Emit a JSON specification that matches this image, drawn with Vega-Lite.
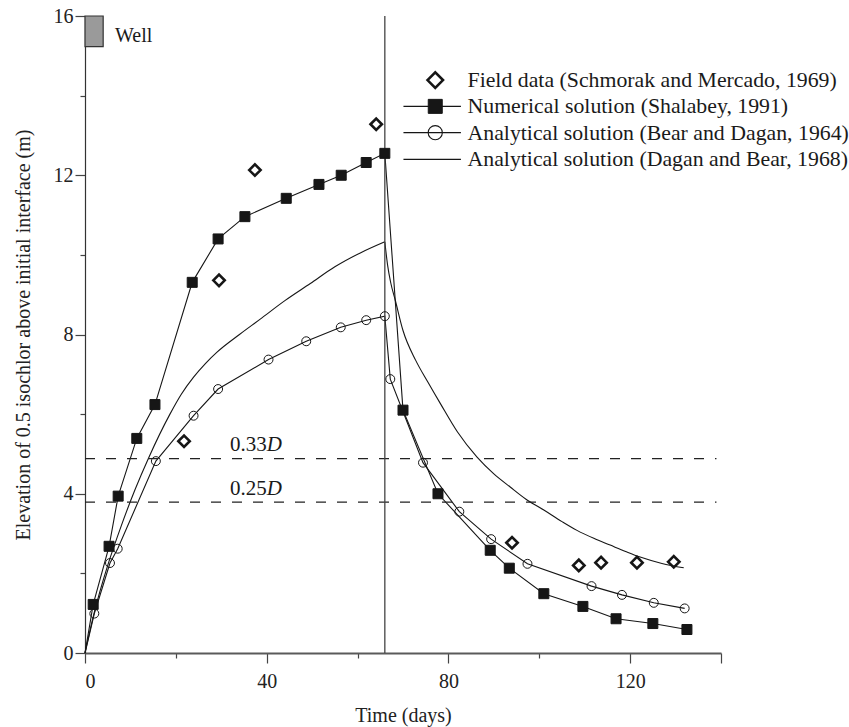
{
  "$schema": "https://vega.github.io/schema/vega-lite/v6.json",
  "width": 636,
  "height": 637,
  "autosize": "none",
  "padding": {"left": 85, "top": 16, "right": 128, "bottom": 74},
  "background": "white",
  "config": {
    "view": {"stroke": null},
    "font": "Liberation Serif",
    "axis": {
      "grid": false,
      "labelFont": "Liberation Serif",
      "labelFontSize": 20,
      "labelColor": "#222222",
      "titleFont": "Liberation Serif",
      "titleFontSize": 20,
      "titleFontWeight": "normal",
      "titleColor": "#222222",
      "tickColor": "#444444",
      "tickWidth": 1.2
    },
    "text": {"font": "Liberation Serif", "color": "#1a1a1a"}
  },
  "datasets": {
    "obs": [
      {"series": "Field data (Schmorak and Mercado, 1969)", "stage": "pumping", "day": 21.8, "val": 5.32},
      {"series": "Field data (Schmorak and Mercado, 1969)", "stage": "pumping", "day": 29.5, "val": 9.36},
      {"series": "Field data (Schmorak and Mercado, 1969)", "stage": "pumping", "day": 37.4, "val": 12.13},
      {"series": "Field data (Schmorak and Mercado, 1969)", "stage": "pumping", "day": 64.1, "val": 13.28},
      {"series": "Field data (Schmorak and Mercado, 1969)", "stage": "recovery", "day": 94.0, "val": 2.77},
      {"series": "Field data (Schmorak and Mercado, 1969)", "stage": "recovery", "day": 108.7, "val": 2.2},
      {"series": "Field data (Schmorak and Mercado, 1969)", "stage": "recovery", "day": 113.6, "val": 2.27},
      {"series": "Field data (Schmorak and Mercado, 1969)", "stage": "recovery", "day": 121.5, "val": 2.27},
      {"series": "Field data (Schmorak and Mercado, 1969)", "stage": "recovery", "day": 129.6, "val": 2.29},

      {"series": "Numerical solution (Shalabey, 1991)", "stage": "pumping", "day": 0, "val": 0},
      {"series": "Numerical solution (Shalabey, 1991)", "stage": "pumping", "day": 1.8, "val": 1.22},
      {"series": "Numerical solution (Shalabey, 1991)", "stage": "pumping", "day": 5.3, "val": 2.68},
      {"series": "Numerical solution (Shalabey, 1991)", "stage": "pumping", "day": 7.3, "val": 3.94},
      {"series": "Numerical solution (Shalabey, 1991)", "stage": "pumping", "day": 11.4, "val": 5.39},
      {"series": "Numerical solution (Shalabey, 1991)", "stage": "pumping", "day": 15.4, "val": 6.24},
      {"series": "Numerical solution (Shalabey, 1991)", "stage": "pumping", "day": 23.6, "val": 9.31},
      {"series": "Numerical solution (Shalabey, 1991)", "stage": "pumping", "day": 29.3, "val": 10.4},
      {"series": "Numerical solution (Shalabey, 1991)", "stage": "pumping", "day": 35.2, "val": 10.96},
      {"series": "Numerical solution (Shalabey, 1991)", "stage": "pumping", "day": 44.3, "val": 11.42},
      {"series": "Numerical solution (Shalabey, 1991)", "stage": "pumping", "day": 51.5, "val": 11.77},
      {"series": "Numerical solution (Shalabey, 1991)", "stage": "pumping", "day": 56.4, "val": 12.0},
      {"series": "Numerical solution (Shalabey, 1991)", "stage": "pumping", "day": 61.9, "val": 12.32},
      {"series": "Numerical solution (Shalabey, 1991)", "stage": "pumping", "day": 66, "val": 12.55},
      {"series": "Numerical solution (Shalabey, 1991)", "stage": "recovery", "day": 70.0, "val": 6.1},
      {"series": "Numerical solution (Shalabey, 1991)", "stage": "recovery", "day": 77.7, "val": 4.0},
      {"series": "Numerical solution (Shalabey, 1991)", "stage": "recovery", "day": 89.2, "val": 2.58},
      {"series": "Numerical solution (Shalabey, 1991)", "stage": "recovery", "day": 93.4, "val": 2.13},
      {"series": "Numerical solution (Shalabey, 1991)", "stage": "recovery", "day": 101.0, "val": 1.49},
      {"series": "Numerical solution (Shalabey, 1991)", "stage": "recovery", "day": 109.6, "val": 1.17},
      {"series": "Numerical solution (Shalabey, 1991)", "stage": "recovery", "day": 116.9, "val": 0.86},
      {"series": "Numerical solution (Shalabey, 1991)", "stage": "recovery", "day": 125.0, "val": 0.74},
      {"series": "Numerical solution (Shalabey, 1991)", "stage": "recovery", "day": 132.5, "val": 0.59},

      {"series": "Analytical solution (Bear and Dagan, 1964)", "stage": "pumping", "day": 0, "val": 0},
      {"series": "Analytical solution (Bear and Dagan, 1964)", "stage": "pumping", "day": 2.05, "val": 0.99},
      {"series": "Analytical solution (Bear and Dagan, 1964)", "stage": "pumping", "day": 5.5, "val": 2.26},
      {"series": "Analytical solution (Bear and Dagan, 1964)", "stage": "pumping", "day": 7.2, "val": 2.62},
      {"series": "Analytical solution (Bear and Dagan, 1964)", "stage": "pumping", "day": 15.6, "val": 4.82},
      {"series": "Analytical solution (Bear and Dagan, 1964)", "stage": "pumping", "day": 23.9, "val": 5.96},
      {"series": "Analytical solution (Bear and Dagan, 1964)", "stage": "pumping", "day": 29.3, "val": 6.63},
      {"series": "Analytical solution (Bear and Dagan, 1964)", "stage": "pumping", "day": 40.4, "val": 7.37},
      {"series": "Analytical solution (Bear and Dagan, 1964)", "stage": "pumping", "day": 48.7, "val": 7.83},
      {"series": "Analytical solution (Bear and Dagan, 1964)", "stage": "pumping", "day": 56.3, "val": 8.18},
      {"series": "Analytical solution (Bear and Dagan, 1964)", "stage": "pumping", "day": 61.9, "val": 8.36},
      {"series": "Analytical solution (Bear and Dagan, 1964)", "stage": "pumping", "day": 66, "val": 8.46},
      {"series": "Analytical solution (Bear and Dagan, 1964)", "stage": "recovery", "day": 67.2, "val": 6.88},
      {"series": "Analytical solution (Bear and Dagan, 1964)", "stage": "recovery", "day": 74.4, "val": 4.78},
      {"series": "Analytical solution (Bear and Dagan, 1964)", "stage": "recovery", "day": 82.4, "val": 3.55},
      {"series": "Analytical solution (Bear and Dagan, 1964)", "stage": "recovery", "day": 89.4, "val": 2.86},
      {"series": "Analytical solution (Bear and Dagan, 1964)", "stage": "recovery", "day": 97.4, "val": 2.24},
      {"series": "Analytical solution (Bear and Dagan, 1964)", "stage": "recovery", "day": 111.5, "val": 1.68},
      {"series": "Analytical solution (Bear and Dagan, 1964)", "stage": "recovery", "day": 118.2, "val": 1.46},
      {"series": "Analytical solution (Bear and Dagan, 1964)", "stage": "recovery", "day": 125.2, "val": 1.26},
      {"series": "Analytical solution (Bear and Dagan, 1964)", "stage": "recovery", "day": 132.0, "val": 1.12},

      {"series": "Analytical solution (Dagan and Bear, 1968)", "stage": "pumping", "day": 0, "val": 0},
      {"series": "Analytical solution (Dagan and Bear, 1968)", "stage": "pumping", "day": 2, "val": 1.0},
      {"series": "Analytical solution (Dagan and Bear, 1968)", "stage": "pumping", "day": 5, "val": 2.2},
      {"series": "Analytical solution (Dagan and Bear, 1968)", "stage": "pumping", "day": 8, "val": 3.2},
      {"series": "Analytical solution (Dagan and Bear, 1968)", "stage": "pumping", "day": 11, "val": 4.1},
      {"series": "Analytical solution (Dagan and Bear, 1968)", "stage": "pumping", "day": 14, "val": 4.9},
      {"series": "Analytical solution (Dagan and Bear, 1968)", "stage": "pumping", "day": 18.7, "val": 6.0},
      {"series": "Analytical solution (Dagan and Bear, 1968)", "stage": "pumping", "day": 21.2, "val": 6.5},
      {"series": "Analytical solution (Dagan and Bear, 1968)", "stage": "pumping", "day": 23.9, "val": 6.93},
      {"series": "Analytical solution (Dagan and Bear, 1968)", "stage": "pumping", "day": 26.5, "val": 7.27},
      {"series": "Analytical solution (Dagan and Bear, 1968)", "stage": "pumping", "day": 29.0, "val": 7.55},
      {"series": "Analytical solution (Dagan and Bear, 1968)", "stage": "pumping", "day": 34.0, "val": 8.0},
      {"series": "Analytical solution (Dagan and Bear, 1968)", "stage": "pumping", "day": 38.5, "val": 8.38},
      {"series": "Analytical solution (Dagan and Bear, 1968)", "stage": "pumping", "day": 44.0, "val": 8.85},
      {"series": "Analytical solution (Dagan and Bear, 1968)", "stage": "pumping", "day": 49.6, "val": 9.28},
      {"series": "Analytical solution (Dagan and Bear, 1968)", "stage": "pumping", "day": 55.0, "val": 9.7},
      {"series": "Analytical solution (Dagan and Bear, 1968)", "stage": "pumping", "day": 60.6, "val": 10.05},
      {"series": "Analytical solution (Dagan and Bear, 1968)", "stage": "pumping", "day": 66, "val": 10.33},
      {"series": "Analytical solution (Dagan and Bear, 1968)", "stage": "recovery", "day": 66, "val": 10.33},
      {"series": "Analytical solution (Dagan and Bear, 1968)", "stage": "recovery", "day": 66.6, "val": 9.75},
      {"series": "Analytical solution (Dagan and Bear, 1968)", "stage": "recovery", "day": 67.3, "val": 9.3},
      {"series": "Analytical solution (Dagan and Bear, 1968)", "stage": "recovery", "day": 68.3, "val": 8.86},
      {"series": "Analytical solution (Dagan and Bear, 1968)", "stage": "recovery", "day": 70.0, "val": 8.1},
      {"series": "Analytical solution (Dagan and Bear, 1968)", "stage": "recovery", "day": 72.8, "val": 7.35},
      {"series": "Analytical solution (Dagan and Bear, 1968)", "stage": "recovery", "day": 75.5, "val": 6.8},
      {"series": "Analytical solution (Dagan and Bear, 1968)", "stage": "recovery", "day": 78.2, "val": 6.27},
      {"series": "Analytical solution (Dagan and Bear, 1968)", "stage": "recovery", "day": 82.0, "val": 5.55},
      {"series": "Analytical solution (Dagan and Bear, 1968)", "stage": "recovery", "day": 86.3, "val": 4.92},
      {"series": "Analytical solution (Dagan and Bear, 1968)", "stage": "recovery", "day": 90.0, "val": 4.5},
      {"series": "Analytical solution (Dagan and Bear, 1968)", "stage": "recovery", "day": 93.6, "val": 4.17},
      {"series": "Analytical solution (Dagan and Bear, 1968)", "stage": "recovery", "day": 97.0, "val": 3.87},
      {"series": "Analytical solution (Dagan and Bear, 1968)", "stage": "recovery", "day": 101.0, "val": 3.59},
      {"series": "Analytical solution (Dagan and Bear, 1968)", "stage": "recovery", "day": 105.0, "val": 3.3},
      {"series": "Analytical solution (Dagan and Bear, 1968)", "stage": "recovery", "day": 108.3, "val": 3.08},
      {"series": "Analytical solution (Dagan and Bear, 1968)", "stage": "recovery", "day": 112.0, "val": 2.88},
      {"series": "Analytical solution (Dagan and Bear, 1968)", "stage": "recovery", "day": 115.6, "val": 2.71},
      {"series": "Analytical solution (Dagan and Bear, 1968)", "stage": "recovery", "day": 119.0, "val": 2.55},
      {"series": "Analytical solution (Dagan and Bear, 1968)", "stage": "recovery", "day": 122.2, "val": 2.41},
      {"series": "Analytical solution (Dagan and Bear, 1968)", "stage": "recovery", "day": 127.0, "val": 2.25},
      {"series": "Analytical solution (Dagan and Bear, 1968)", "stage": "recovery", "day": 131.8, "val": 2.14}
    ],
    "levels": [
      {"num": "0.33", "val": 4.88},
      {"num": "0.25", "val": 3.79}
    ],
    "one": [{}]
  },
  "layer": [
    {
      "data": {"name": "obs"},
      "transform": [
        {"filter": "datum.series === 'Numerical solution (Shalabey, 1991)' || datum.series === 'Analytical solution (Bear and Dagan, 1964)'"}
      ],
      "mark": {"type": "line", "color": "#161616", "strokeWidth": 1.1},
      "encoding": {
        "x": {
          "field": "day", "type": "quantitative",
          "title": "Time (days)",
          "scale": {"domain": [0, 140], "nice": false},
          "axis": {
            "values": [0, 20, 40, 60, 80, 100, 120, 140],
            "labelExpr": "datum.value % 40 === 0 ? datum.label : ''",
            "tickSize": {"condition": {"test": "datum.value % 40 === 0 || datum.value === 140", "value": 10}, "value": 5},
            "labelPadding": 8,
            "domainColor": "#5a5a5a",
            "domainWidth": 1.8,
            "titlePadding": 14
          }
        },
        "y": {
          "field": "val", "type": "quantitative",
          "title": "Elevation of 0.5 isochlor above initial interface (m)",
          "scale": {"domain": [0, 16], "nice": false},
          "axis": {
            "values": [0, 2, 4, 6, 8, 10, 12, 14, 16],
            "labelExpr": "datum.value % 4 === 0 ? datum.label : ''",
            "tickSize": {"condition": {"test": "datum.value % 4 === 0", "value": 10}, "value": 5},
            "labelPadding": 2,
            "domainColor": "#333333",
            "domainWidth": 1.2,
            "titlePadding": 20
          }
        },
        "detail": {"field": "series"}
      }
    },
    {
      "data": {"name": "obs"},
      "transform": [
        {"filter": "datum.series === 'Analytical solution (Dagan and Bear, 1968)'"}
      ],
      "mark": {"type": "line", "color": "#161616", "strokeWidth": 1.1, "interpolate": "monotone"},
      "encoding": {
        "x": {"field": "day", "type": "quantitative", "title": "Time (days)"},
        "y": {"field": "val", "type": "quantitative", "title": "Elevation of 0.5 isochlor above initial interface (m)"},
        "detail": {"field": "stage"}
      }
    },
    {
      "data": {"name": "levels"},
      "mark": {"type": "rule", "color": "#222222", "strokeWidth": 1.2, "strokeDash": [10, 11]},
      "encoding": {
        "y": {"field": "val", "type": "quantitative", "title": "Elevation of 0.5 isochlor above initial interface (m)"},
        "x": {"datum": 0, "type": "quantitative"},
        "x2": {"datum": 139}
      }
    },
    {
      "data": {"name": "levels"},
      "mark": {"type": "text", "align": "right", "baseline": "alphabetic", "dy": -7.5, "fontSize": 21},
      "encoding": {
        "x": {"datum": 40, "type": "quantitative"},
        "y": {"field": "val", "type": "quantitative", "title": "Elevation of 0.5 isochlor above initial interface (m)"},
        "text": {"field": "num"}
      }
    },
    {
      "data": {"name": "levels"},
      "mark": {"type": "text", "align": "left", "baseline": "alphabetic", "dy": -7.5, "fontSize": 21, "fontStyle": "italic", "text": "D"},
      "encoding": {
        "x": {"datum": 40, "type": "quantitative"},
        "y": {"field": "val", "type": "quantitative", "title": "Elevation of 0.5 isochlor above initial interface (m)"}
      }
    },
    {
      "data": {"name": "one"},
      "mark": {"type": "rect", "fill": "#9a9a9a", "stroke": "#333333", "strokeWidth": 1.2},
      "encoding": {
        "x": {"datum": 0, "type": "quantitative"},
        "x2": {"datum": 4},
        "y": {"datum": 15.23, "type": "quantitative"},
        "y2": {"datum": 16}
      }
    },
    {
      "data": {"name": "one"},
      "mark": {"type": "text", "align": "left", "baseline": "middle", "fontSize": 20, "text": "Well"},
      "encoding": {
        "x": {"datum": 6.6, "type": "quantitative"},
        "y": {"datum": 15.5, "type": "quantitative"}
      }
    },
    {
      "data": {"name": "one"},
      "mark": {"type": "rule", "color": "#444444", "strokeWidth": 1.3},
      "encoding": {
        "x": {"datum": 66, "type": "quantitative"},
        "y": {"datum": 0, "type": "quantitative"},
        "y2": {"datum": 16}
      }
    },
    {
      "data": {"name": "obs"},
      "transform": [{"filter": "datum.series === 'Field data (Schmorak and Mercado, 1969)'"}],
      "mark": {"type": "point", "shape": "diamond", "size": 130, "strokeWidth": 2.6, "stroke": "#161616", "fill": "transparent", "opacity": 1},
      "encoding": {
        "x": {"field": "day", "type": "quantitative", "title": "Time (days)"},
        "y": {"field": "val", "type": "quantitative", "title": "Elevation of 0.5 isochlor above initial interface (m)"}
      }
    },
    {
      "data": {"name": "obs"},
      "transform": [{"filter": "datum.series === 'Numerical solution (Shalabey, 1991)' && datum.day > 0"}],
      "mark": {"type": "point", "shape": "square", "size": 100, "strokeWidth": 1, "stroke": "#161616", "fill": "#161616", "opacity": 1},
      "encoding": {
        "x": {"field": "day", "type": "quantitative", "title": "Time (days)"},
        "y": {"field": "val", "type": "quantitative", "title": "Elevation of 0.5 isochlor above initial interface (m)"}
      }
    },
    {
      "data": {"name": "obs"},
      "transform": [{"filter": "datum.series === 'Analytical solution (Bear and Dagan, 1964)' && datum.day > 0"}],
      "mark": {"type": "point", "shape": "circle", "size": 80, "strokeWidth": 1, "stroke": "#161616", "fill": "transparent", "opacity": 1},
      "encoding": {
        "x": {"field": "day", "type": "quantitative", "title": "Time (days)"},
        "y": {"field": "val", "type": "quantitative", "title": "Elevation of 0.5 isochlor above initial interface (m)"}
      }
    },
    {
      "data": {"name": "one"},
      "mark": {"type": "point", "shape": "diamond", "size": 240, "strokeWidth": 2.6, "stroke": "#161616", "fill": "transparent", "opacity": 1},
      "encoding": {
        "x": {"datum": 77.1, "type": "quantitative"},
        "y": {"datum": 14.39, "type": "quantitative"}
      }
    },
    {
      "data": {"name": "one"},
      "mark": {"type": "text", "align": "left", "baseline": "middle", "fontSize": 21.8, "text": "Field data (Schmorak and Mercado, 1969)"},
      "encoding": {
        "x": {"datum": 84.2, "type": "quantitative"},
        "y": {"datum": 14.39, "type": "quantitative"}
      }
    },
    {
      "data": {"name": "one"},
      "mark": {"type": "rule", "color": "#161616", "strokeWidth": 1.1},
      "encoding": {
        "x": {"datum": 70.1, "type": "quantitative"},
        "x2": {"datum": 82.75},
        "y": {"datum": 13.73, "type": "quantitative"}
      }
    },
    {
      "data": {"name": "one"},
      "mark": {"type": "point", "shape": "square", "size": 196, "strokeWidth": 1, "stroke": "#161616", "fill": "#161616", "opacity": 1},
      "encoding": {
        "x": {"datum": 77.1, "type": "quantitative"},
        "y": {"datum": 13.73, "type": "quantitative"}
      }
    },
    {
      "data": {"name": "one"},
      "mark": {"type": "text", "align": "left", "baseline": "middle", "fontSize": 21.8, "text": "Numerical solution (Shalabey, 1991)"},
      "encoding": {
        "x": {"datum": 84.2, "type": "quantitative"},
        "y": {"datum": 13.73, "type": "quantitative"}
      }
    },
    {
      "data": {"name": "one"},
      "mark": {"type": "rule", "color": "#161616", "strokeWidth": 1.1},
      "encoding": {
        "x": {"datum": 70.1, "type": "quantitative"},
        "x2": {"datum": 82.75},
        "y": {"datum": 13.07, "type": "quantitative"}
      }
    },
    {
      "data": {"name": "one"},
      "mark": {"type": "point", "shape": "circle", "size": 200, "strokeWidth": 1.1, "stroke": "#161616", "fill": "transparent", "opacity": 1},
      "encoding": {
        "x": {"datum": 77.1, "type": "quantitative"},
        "y": {"datum": 13.07, "type": "quantitative"}
      }
    },
    {
      "data": {"name": "one"},
      "mark": {"type": "text", "align": "left", "baseline": "middle", "fontSize": 21.8, "text": "Analytical solution (Bear and Dagan, 1964)"},
      "encoding": {
        "x": {"datum": 84.2, "type": "quantitative"},
        "y": {"datum": 13.07, "type": "quantitative"}
      }
    },
    {
      "data": {"name": "one"},
      "mark": {"type": "rule", "color": "#161616", "strokeWidth": 1.1},
      "encoding": {
        "x": {"datum": 70.1, "type": "quantitative"},
        "x2": {"datum": 82.75},
        "y": {"datum": 12.4, "type": "quantitative"}
      }
    },
    {
      "data": {"name": "one"},
      "mark": {"type": "text", "align": "left", "baseline": "middle", "fontSize": 21.8, "text": "Analytical solution (Dagan and Bear, 1968)"},
      "encoding": {
        "x": {"datum": 84.2, "type": "quantitative"},
        "y": {"datum": 12.4, "type": "quantitative"}
      }
    }
  ]
}
